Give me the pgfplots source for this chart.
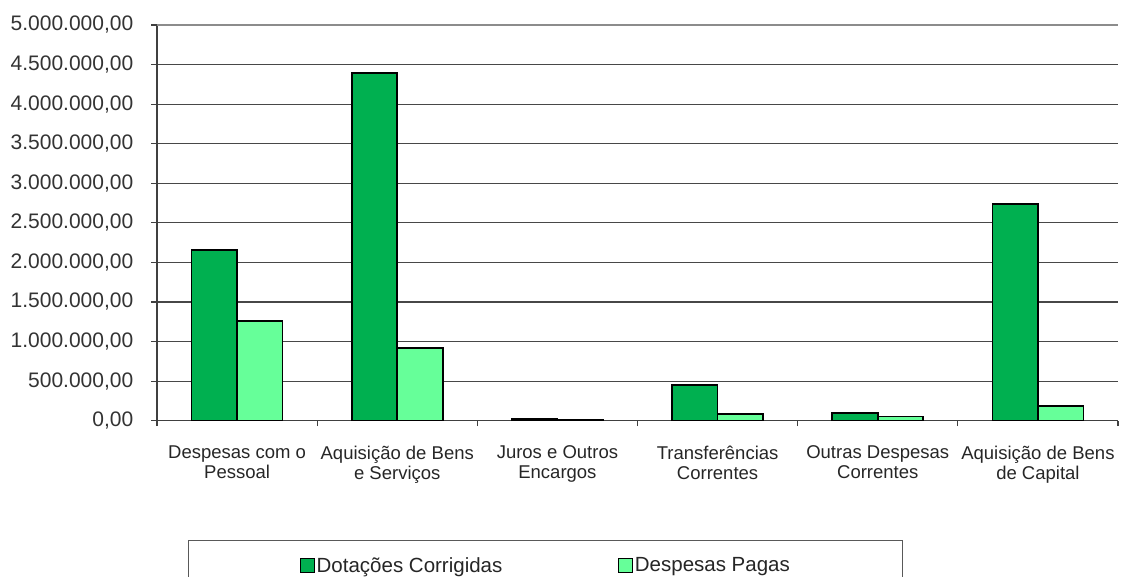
\documentclass[border=0pt]{standalone}
\usepackage{pgfplots}
\pgfplotsset{compat=1.18}
\usepackage{fontspec}
\setmainfont{Liberation Sans}
\definecolor{dk}{RGB}{0,176,80}
\definecolor{lt}{RGB}{102,255,153}
\newcommand\tf{\fontsize{18.5}{20}\selectfont}
\newcommand\yf{\fontsize{21}{22}\selectfont}
\newcommand\lf{\fontsize{20.5}{22}\selectfont}
\begin{document}
\begin{tikzpicture}
\begin{axis}[name=ax,
  scale only axis, width=961pt, height=395.7pt,
  xmin=-0.5, xmax=5.5, ymin=0, ymax=5000000,
  ybar=0pt, bar width=45.5pt,
  axis x line*=bottom, axis y line*=left,
  axis line style={draw=black!75, line width=1.2pt},
  tick align=outside, major tick length=5.5pt,
  tick style={draw=black!75, line width=1.2pt},
  scaled y ticks=false,
  /pgf/number format/assume math mode=true,
  ytick={0,500000,1000000,1500000,2000000,2500000,3000000,3500000,4000000,4500000},
  yticklabel={\pgfmathprintnumber[fixed,fixed zerofill,precision=2,use comma,1000 sep={.}]{\tick}},
  extra y ticks={5000000},
  extra y tick style={grid style={draw=black!45, line width=1.5pt}},
  ymajorgrids, grid style={draw=black!72, line width=1.2pt},
  yticklabel style={font=\yf, text=black!80, inner sep=0pt, xshift=-18pt},
  xtick={-0.5,0.5,1.5,2.5,3.5,4.5,5.5},
  xticklabels={,,,,,,},
  extra x ticks={0,1,2,3,4,5},
  extra x tick labels={{Despesas com o\\Pessoal},{Aquisição de Bens\\e Serviços},{Juros e Outros\\Encargos},{Transferências\\Correntes},{Outras Despesas\\Correntes},{Aquisição de Bens\\de Capital}},
  extra x tick style={major tick length=0pt, xmajorgrids=false},
  xticklabel style={font=\tf, text=black!85, align=center, inner sep=0pt, yshift=-25pt},
  legend columns=2,
  legend style={at={(0.0323,-0.3015)}, anchor=north west, draw=black!65, line width=1.3pt,
    inner xsep=111pt, inner ysep=15pt, font=\lf, text=black!85,
    nodes={inner sep=1.5pt},
    /tikz/every even column/.append style={column sep=114pt}},
  legend image code/.code={\draw[#1, draw=black, line width=1.5pt] (0pt,-7pt) rectangle (14pt,7pt);},
]
\addplot[fill=dk, draw=black, line width=1.6pt] coordinates {(0,2155000) (1,4395000) (2,22000) (3,452000) (4,95000) (5,2735000)};
\addplot[fill=lt, draw=black, line width=1.6pt] coordinates {(0,1260000) (1,920000) (2,7000) (3,82000) (4,52000) (5,183000)};
\legend{Dotações Corrigidas, Despesas Pagas}
\end{axis}
\pgfresetboundingbox
\path[use as bounding box] ([xshift=-157pt,yshift=-155.3pt]ax.south west) rectangle ([xshift=3pt,yshift=25pt]ax.north east);
\end{tikzpicture}
\end{document}
